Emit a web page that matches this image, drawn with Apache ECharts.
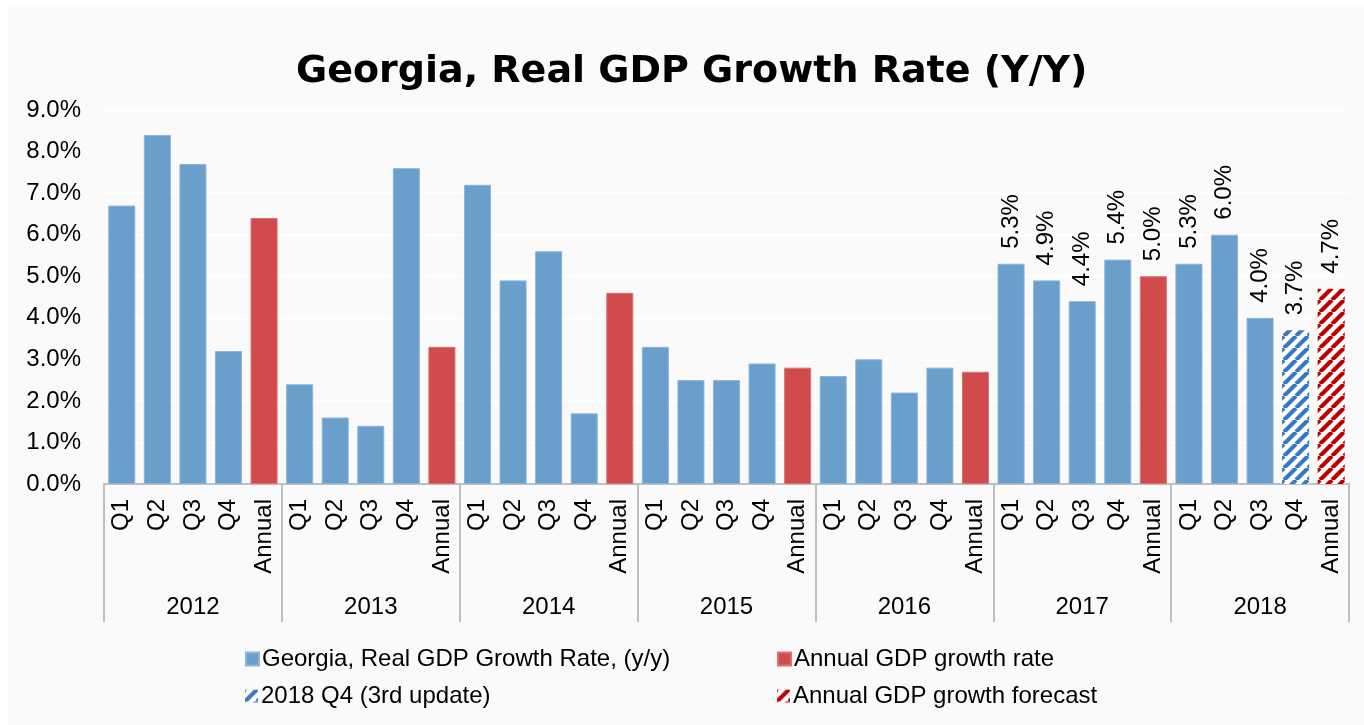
<!DOCTYPE html>
<html>
<head>
<meta charset="utf-8">
<title>Georgia, Real GDP Growth Rate (Y/Y)</title>
<script src="https://cdn.jsdelivr.net/npm/echarts@6/dist/echarts.min.js"></script>
<style>
  html, body { margin: 0; padding: 0; background: #ffffff; }
  #chart { width: 1364px; height: 725px; }
</style>
</head>
<body>
<div id="chart"></div>
<script>
const years = ['2012', '2013', '2014', '2015', '2016', '2017', '2018'];
const periods = ['Q1', 'Q2', 'Q3', 'Q4', 'Annual'];

// one slot per period, '-' where the series has no bar
const quarterlyGrowth = [
  6.7, 8.4, 7.7, 3.2, '-',
  2.4, 1.6, 1.4, 7.6, '-',
  7.2, 4.9, 5.6, 1.7, '-',
  3.3, 2.5, 2.5, 2.9, '-',
  2.6, 3.0, 2.2, 2.8, '-',
  5.3, 4.9, 4.4, 5.4, '-',
  5.3, 6.0, 4.0, '-', '-'
];
const annualGrowth = [
  '-', '-', '-', '-', 6.4,
  '-', '-', '-', '-', 3.3,
  '-', '-', '-', '-', 4.6,
  '-', '-', '-', '-', 2.8,
  '-', '-', '-', '-', 2.7,
  '-', '-', '-', '-', 5.0,
  '-', '-', '-', '-', '-'
];
const q4Update = [
  '-', '-', '-', '-', '-',
  '-', '-', '-', '-', '-',
  '-', '-', '-', '-', '-',
  '-', '-', '-', '-', '-',
  '-', '-', '-', '-', '-',
  '-', '-', '-', '-', '-',
  '-', '-', '-', 3.7, '-'
];
const annualForecast = [
  '-', '-', '-', '-', '-',
  '-', '-', '-', '-', '-',
  '-', '-', '-', '-', '-',
  '-', '-', '-', '-', '-',
  '-', '-', '-', '-', '-',
  '-', '-', '-', '-', '-',
  '-', '-', '-', '-', 4.7
];
const yTicks = ['0.0%', '1.0%', '2.0%', '3.0%', '4.0%', '5.0%', '6.0%', '7.0%', '8.0%', '9.0%'];

const categories = [];
years.forEach(() => periods.forEach((p) => categories.push(p)));

const LABEL_FROM = 25; // values are printed from 2017 on
const FONT = 'Liberation Sans, Arial, sans-serif';

function hatch(color) {
  const s = 12;
  const c = document.createElement('canvas');
  c.width = s;
  c.height = s;
  const ctx = c.getContext('2d');
  ctx.fillStyle = '#ffffff';
  ctx.fillRect(0, 0, s, s);
  ctx.strokeStyle = color;
  ctx.lineWidth = 4.2;
  ctx.beginPath();
  [-s, 0, s].forEach((o) => {
    ctx.moveTo(o, s);
    ctx.lineTo(o + s, 0);
  });
  ctx.stroke();
  return { image: c, repeat: 'repeat' };
}

function withLabels(values) {
  return values.map((v, i) => ({ value: v, label: { show: i >= LABEL_FROM && v !== '-' } }));
}

const barLabel = {
  position: 'top',
  rotate: 90,
  align: 'left',
  verticalAlign: 'middle',
  distance: 15,
  fontSize: 24,
  fontFamily: FONT,
  color: '#000',
  formatter: (p) => p.value.toFixed(1) + '%',
};

const chart = echarts.init(document.getElementById('chart'));

const legendBase = {
  padding: 0,
  itemWidth: 13,
  itemHeight: 13,
  icon: 'rect',
  selectedMode: false,
  textStyle: { fontSize: 24, fontFamily: FONT, color: '#000', padding: [0, 0, 0, -2] },
};

chart.setOption({
  backgroundColor: '#ffffff',
  animation: false,
  graphic: [{
    type: 'rect',
    z: -10,
    shape: { x: 8, y: 7, width: 1356, height: 718 },
    style: { fill: '#fafafa' },
  }],
  title: {
    text: 'Georgia, Real GDP Growth Rate (Y/Y)',
    left: 296,
    top: 53,
    padding: 0,
    textStyle: { fontSize: 38, fontWeight: 'bold', fontFamily: 'DejaVu Sans, sans-serif', color: '#000' },
  },
  legend: [
    Object.assign({ data: ['Georgia, Real GDP Growth Rate, (y/y)'], left: 245, top: 647 }, legendBase),
    Object.assign({ data: ['Annual GDP growth rate'], left: 777, top: 647 }, legendBase),
    Object.assign({ data: ['2018 Q4 (3rd update)'], left: 245, top: 684 }, legendBase),
    Object.assign({ data: ['Annual GDP growth forecast'], left: 777, top: 684 }, legendBase),
  ],
  grid: { left: 104, right: 15, top: 110, bottom: 241 },
  xAxis: [
    {
      type: 'category',
      data: categories,
      position: 'bottom',
      axisLine: { lineStyle: { color: '#bfbfbf', width: 2 } },
      axisTick: { show: false },
      axisLabel: {
        interval: 0,
        rotate: 90,
        margin: 15,
        fontSize: 24,
        fontFamily: FONT,
        color: '#000',
      },
    },
    {
      type: 'category',
      data: years,
      position: 'bottom',
      axisLine: { show: false },
      axisTick: { show: true, interval: 0, length: 138, lineStyle: { color: '#bfbfbf', width: 2 } },
      axisLabel: { interval: 0, margin: 111, fontSize: 24, fontFamily: FONT, color: '#000' },
    },
  ],
  yAxis: {
    type: 'value',
    min: 0,
    max: 9,
    interval: 1,
    axisLine: { show: false },
    axisTick: { show: false },
    splitLine: { lineStyle: { color: '#ffffff', width: 1.5 } },
    axisLabel: {
      margin: 23,
      fontSize: 24,
      fontFamily: FONT,
      color: '#000',
      formatter: (v) => yTicks[Math.round(v)],
    },
  },
  series: [
    {
      name: 'Georgia, Real GDP Growth Rate, (y/y)',
      type: 'bar',
      stack: 'gdp',
      barCategoryGap: '24%',
      data: withLabels(quarterlyGrowth),
      itemStyle: { color: '#6a9ecb', borderColor: '#8cb5dc', borderWidth: 1 },
      label: barLabel,
    },
    {
      name: 'Annual GDP growth rate',
      type: 'bar',
      stack: 'gdp',
      data: withLabels(annualGrowth),
      itemStyle: { color: '#d24b4c', borderColor: '#dc7070', borderWidth: 1 },
      label: barLabel,
    },
    {
      name: '2018 Q4 (3rd update)',
      type: 'bar',
      stack: 'gdp',
      data: withLabels(q4Update),
      itemStyle: { color: hatch('#3a79bd') },
      label: barLabel,
    },
    {
      name: 'Annual GDP growth forecast',
      type: 'bar',
      stack: 'gdp',
      data: withLabels(annualForecast),
      itemStyle: { color: hatch('#c00000') },
      label: barLabel,
    },
  ],
});
</script>
</body>
</html>
